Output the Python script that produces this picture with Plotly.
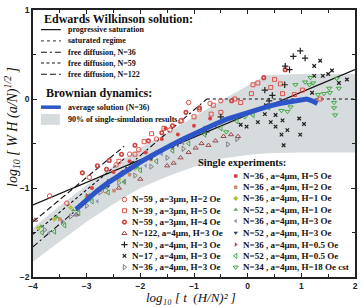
import plotly.graph_objects as go

# ---------------- data ----------------
# Edwards-Wilkinson analytic curves
prog_x = [-4, 2]
prog_y = [-1.19, 0.33]
sat_x = [-0.76, 2]
sat_y = [0.0, 0.0]
free36_x = [-4, -0.76]
free36_y = [-1.66, 0.0]
free59_x = [-4, -2.3]
free59_y = [-1.52, -0.67]
free122_x = [-4, -2.3]
free122_y = [-1.38, -0.53]

# Brownian dynamics average (N=36)
blue_x = [-3.2, -3.0, -2.8, -2.6, -2.4, -2.2, -2.0, -1.8, -1.6, -1.4, -1.2, -1.0, -0.8,
          -0.6, -0.4, -0.2, 0.0, 0.2, 0.4, 0.6, 0.8, 1.0, 1.1, 1.2, 1.3]
blue_y = [-1.24, -1.13, -1.03, -0.94, -0.86, -0.78, -0.71, -0.64, -0.57, -0.51, -0.45, -0.39, -0.33,
          -0.28, -0.23, -0.19, -0.15, -0.11, -0.08, -0.05, -0.03, -0.01, 0.0, -0.02, -0.05]

# 90% band of single simulations
band_x = [-4, -3.5, -3, -2.5, -2, -1.5, -1.0, -0.5, 0, 0.35, 1, 1.5, 2]
band_hi = [-1.45, -1.2, -0.97, -0.75, -0.55, -0.38, -0.2, -0.02, 0.15, 0.27, 0.28, 0.28, 0.28]
band_lo = [-1.83, -1.6, -1.38, -1.18, -1.0, -0.87, -0.76, -0.67, -0.63, -0.61, -0.6, -0.6, -0.6]

# single experiments
s59_H2_x = [-3.69, -3.37, -2.65, -2.95, -2.45, -2.2, -2.03, -1.7, -1.45, -1.25, -1.1, -0.9, -0.7, -0.5]
s59_H2_y = [-1.09, -1.17, -1.03, -0.88, -0.74, -0.62, -0.57, -0.45, -0.35, -0.25, -0.04, -0.12, -0.05, -0.02]
s39_H5_x = [-2.4, -2.1, -1.93, -1.79, -1.56, -1.23, -1.0, -0.68, -0.64, -0.5, -0.24, -0.13, 0.07, 0.1,
            0.19, 0.43, 0.5, 0.61, 0.65, 0.87, 1.02, 1.35]
s39_H5_y = [-0.7, -0.62, -0.48, -0.39, -0.33, -0.24, -0.2, -0.17, -0.07, -0.15, 0.0, -0.04, 0.06, 0.16,
            0.18, 0.13, 0.22, 0.17, 0.06, 0.05, 0.1, 0.0]
s59_H4_x = [-3.08, -2.8, -2.63, -2.58, -2.35, -2.1, -1.85, -1.6, -1.4, -1.15, -0.9, -0.3, 0.3, 0.7]
s59_H4_y = [-0.83, -0.75, -0.79, -0.69, -0.62, -0.52, -0.47, -0.38, -0.3, -0.15, -0.1, -0.02, 0.24, 0.33]
s122_H3_x = [-3.96, -3.2, -2.4, -2.0, -1.5, -1.38, -1.25, -1.1, -0.97, -0.86, -0.73, -0.6, -0.45, -0.31, -0.18]
s122_H3_y = [-1.36, -1.3, -1.0, -0.9, -0.75, -0.72, -0.66, -0.6, -0.55, -0.5, -0.52, -0.47, -0.42, -0.4, -0.42]
s30_H3_x = [0.85, 0.98, 1.07, 0.7, 0.78, 0.69, 0.46, 0.4, 0.32, -0.77, -1.3, -0.5]
s30_H3_y = [0.48, 0.54, 0.46, 0.37, 0.33, 0.16, 0.04, -0.02, 0.1, -0.37, -0.5, -0.2]
s17_H3_x = [1.24, 1.35, 1.57, 1.24, 1.4, 1.2, 0.52, 0.65, 0.96, 1.05, 0.52, 0.74, 0.63, 0.98, 0.67,
            0.34, 0.32, 0.19, 0.43, -0.02, -0.13, 1.7, 1.85, 1.5]
s17_H3_y = [0.37, 0.43, 0.32, 0.26, 0.26, 0.07, -0.18, -0.24, -0.22, -0.28, -0.31, -0.35, -0.4, -0.4, -0.52,
            -0.07, -0.17, -0.26, -0.26, -0.31, -0.29, 0.18, 0.22, 0.28]
s36_H3o_x = [-3.78, -3.45, -3.3, -3.0, -2.75, -2.4, -2.1, -1.8, -1.5, -1.2, -0.37, -0.2]
s36_H3o_y = [-1.47, -1.38, -1.32, -1.2, -1.05, -0.94, -0.86, -0.76, -0.66, -0.56, -0.51, -0.45]
s36_H5_x = [-2.9, -2.5, -2.2, -1.9, -1.6, -1.53, -1.3, -1.0, -0.7]
s36_H5_y = [-1.0, -0.82, -0.7, -0.6, -0.45, -0.33, -0.4, -0.3, -0.22]
s36_H2_x = [-3.5, -3.1, -2.49, -2.2, -1.8, -1.4, -1.1, -0.8, -0.5]
s36_H2_y = [-1.35, -1.2, -1.03, -0.85, -0.68, -0.55, -0.43, -0.32, -0.27]
s36_H1_x = [-3.9, -3.6, -3.3, -3.0, -2.7, -2.4, -2.1, -1.8]
s36_H1_y = [-1.45, -1.35, -1.22, -1.1, -0.98, -0.9, -0.78, -0.66]
s52_H1_x = [-3.85, -3.55, -3.25, -2.95, -2.65, -2.35, -2.05, -1.75, -1.45, -1.15, -0.85]
s52_H1_y = [-1.43, -1.33, -1.25, -1.08, -1.0, -0.86, -0.77, -0.64, -0.53, -0.45, -0.36]
s36_H3f_x = [-3.7, -3.2, -2.8, -2.3, -1.9, -1.6, -1.2]
s36_H3f_y = [-1.5, -1.3, -1.15, -0.93, -0.75, -0.62, -0.5]
s52_H3_x = [-2.6, -2.2, -1.8, -1.4, -1.0, -0.6, -0.2]
s52_H3_y = [-0.98, -0.8, -0.67, -0.54, -0.42, -0.3, -0.2]
s36_H05_x = [-3.0, -2.6, -2.2, -1.7, -1.2]
s36_H05_y = [-1.08, -0.92, -0.78, -0.6, -0.47]
s52_H05_x = [-3.83, -3.6, -3.41, -3.15, -2.9, -2.6, -2.3, -2.0, -1.7, -1.4, -1.1, -0.8, -0.5, -0.2, 0.1]
s52_H05_y = [-1.5, -1.49, -1.42, -1.28, -1.15, -1.05, -0.93, -0.8, -0.7, -0.58, -0.5, -0.4, -0.33, -0.25, -0.18]
s34_H18_x = [0.89, 1.07, 1.22, 1.31, 1.42, 1.53, 1.66, 1.61, 1.61, 1.63, 0.8, 0.63, 0.74, 1.15, 1.17,
             1.52, 1.7, -0.4, -0.05, 0.4]
s34_H18_y = [0.16, 0.19, 0.18, 0.05, 0.06, 0.07, 0.23, -0.04, -0.1, -0.18, -0.09, -0.13, -0.14, 0.16, 0.24,
             0.12, 0.12, -0.37, -0.2, -0.1]

left_labels = ["N=59 , a=3μm, H=2 Oe", "N=39 , a=3μm, H=5 Oe", "N=59 , a=3μm, H=4 Oe",
               "N=122, a=4μm, H=3 Oe", "N=30 , a=4μm, H=3 Oe", "N=17 , a=4μm, H=3 Oe",
               "N=36 , a=4μm, H=3 Oe"]
right_labels = ["N=36 , a=4μm, H=5 Oe", "N=36 , a=4μm, H=2 Oe", "N=36 , a=4μm, H=1 Oe",
                "N=52 , a=4μm, H=1 Oe", "N=36 , a=4μm, H=3 Oe", "N=52 , a=4μm, H=3 Oe",
                "N=36 , a=4μm, H=0.5 Oe", "N=52 , a=4μm, H=0.5 Oe", "N=34 , a=4μm, H=18 Oe cst"]
ew_labels = ["progressive saturation", "saturated regime", "free diffusion, N=36",
             "free diffusion, N=59", "free diffusion, N=122"]
bd_labels = ["average solution (N=36)", "90% of single-simulation results"]

# ---------------- styles ----------------
RED = "#e0524a"
GREEN = "#45a845"
left_series = [
    (s59_H2_x, s59_H2_y, dict(symbol="circle-open", size=4.5, color=RED, line=dict(width=1, color=RED))),
    (s39_H5_x, s39_H5_y, dict(symbol="square-open", size=4, color=RED, line=dict(width=1, color=RED))),
    (s59_H4_x, s59_H4_y, dict(symbol="circle-open", size=3.5, color="#cc4444", line=dict(width=1.6, color="#cc4444"))),
    (s122_H3_x, s122_H3_y, dict(symbol="triangle-up-open", size=4.5, color="#9a4a4a", line=dict(width=1, color="#9a4a4a"))),
    (s30_H3_x, s30_H3_y, dict(symbol="cross-thin-open", size=4.5, color="#222", line=dict(width=1.2, color="#222"))),
    (s17_H3_x, s17_H3_y, dict(symbol="x-thin-open", size=3.5, color="#222", line=dict(width=1.3, color="#222"))),
    (s36_H3o_x, s36_H3o_y, dict(symbol="triangle-right-open", size=4.5, color="#808080", line=dict(width=1, color="#808080"))),
]
right_series = [
    (s36_H5_x, s36_H5_y, dict(symbol="circle", size=4, color="#d94040")),
    (s36_H2_x, s36_H2_y, dict(symbol="square", size=3.5, color="#c98b6b")),
    (s36_H1_x, s36_H1_y, dict(symbol="diamond", size=4, color="#afbf45")),
    (s52_H1_x, s52_H1_y, dict(symbol="triangle-up", size=4, color="#4aa84a")),
    (s36_H3f_x, s36_H3f_y, dict(symbol="triangle-left", size=4, color="#8a95b5")),
    (s52_H3_x, s52_H3_y, dict(symbol="triangle-down", size=4, color="#2a3a80")),
    (s36_H05_x, s36_H05_y, dict(symbol="triangle-right", size=4, color="#b04870")),
    (s52_H05_x, s52_H05_y, dict(symbol="triangle-left-open", size=4.5, color=GREEN, line=dict(width=1, color=GREEN))),
    (s34_H18_x, s34_H18_y, dict(symbol="triangle-down-open", size=4.5, color=GREEN, line=dict(width=1, color=GREEN))),
]
ew_lines = [
    (prog_x, prog_y, dict(color="#111", width=1.2, dash="solid")),
    (sat_x, sat_y, dict(color="#555", width=1.3, dash="dot")),
    (free36_x, free36_y, dict(color="#111", width=1.1, dash="6px,3px,2px,3px")),
    (free59_x, free59_y, dict(color="#111", width=1.1, dash="3px,2.5px")),
    (free122_x, free122_y, dict(color="#111", width=1.1, dash="6px,3px")),
]
BAND = "#d6dbde"
BLUE = "#2d55c8"

SERIF = "Liberation Serif"

# plot area in page pixels
PX_L, PX_R, PX_T, PX_B = 33, 357, 5, 277

fig = go.Figure()

# band
fig.add_trace(go.Scatter(x=band_x + band_x[::-1], y=band_hi + band_lo[::-1], mode="lines",
                         fill="toself", fillcolor=BAND, line=dict(width=0), hoverinfo="skip"))
# EW lines
for lx, ly, st in ew_lines:
    fig.add_trace(go.Scatter(x=lx, y=ly, mode="lines", line=st))
# experiments
for sx, sy, mk in left_series + right_series:
    fig.add_trace(go.Scatter(x=sx, y=sy, mode="markers", marker=mk))
# Brownian average
fig.add_trace(go.Scatter(x=blue_x, y=blue_y, mode="lines", line=dict(color=BLUE, width=5)))

# ---------------- legend drawn on a pixel overlay axis ----------------
L = dict(xaxis="x2", yaxis="y2", hoverinfo="skip")
ew_rows = [25, 36.5, 48, 59, 70.5]
for (lx, ly, st), r in zip(ew_lines, ew_rows):
    fig.add_trace(go.Scatter(x=[41, 61], y=[r, r], mode="lines", line=st, **L))
fig.add_trace(go.Scatter(x=[41, 61], y=[104, 104], mode="lines", line=dict(color=BLUE, width=3.5), **L))
left_rows = [198, 209.5, 221, 232.5, 244, 255.5, 267]
right_rows = [174, 185.5, 197, 208.5, 220, 232, 244, 255.5, 267]
for (sx, sy, mk), r in zip(left_series, left_rows):
    fig.add_trace(go.Scatter(x=[125], y=[r], mode="markers", marker=mk, **L))
for (sx, sy, mk), r in zip(right_series, right_rows):
    fig.add_trace(go.Scatter(x=[237], y=[r], mode="markers", marker=mk, **L))

fig.add_shape(type="rect", xref="x2", yref="y2", x0=41, x1=60, y0=111, y1=122,
              fillcolor=BAND, line=dict(width=0), layer="above")

ann = []
def txt(x, y, s, size, anchor="left", weight="bold", style="normal"):
    ann.append(dict(x=x, y=y, xref="x2", yref="y2", text=s, showarrow=False, xanchor=anchor,
                    yanchor="middle", font=dict(family=SERIF, size=size, color="#111",
                                                weight=weight, style=style)))

txt(42, 14, "Edwards Wilkinson solution:", 12)
for s, r in zip(ew_labels, ew_rows):
    txt(66, r, s, 8)
txt(44, 90, "Brownian dynamics:", 12)
txt(66, 104, bd_labels[0], 8)
txt(66, 117, bd_labels[1], 8)
txt(243, 160, "Single experiments:", 10.5, anchor="center")
for s, r in zip(left_labels, left_rows):
    txt(131, r, s, 9)
for s, r in zip(right_labels, right_rows):
    txt(242, r, s, 9)

# axis titles (paper coordinates)
def px2paper(px, py):
    return (px - PX_L) / float(PX_R - PX_L), (PX_B - py) / float(PX_B - PX_T)

tx, ty = px2paper(192, 307)
ann.append(dict(x=tx, y=ty, xref="paper", yref="paper", showarrow=False, xanchor="center", yanchor="bottom",
                borderpad=0, text="log₁₀ [ t  (H/N)² ]",
                font=dict(family=SERIF, size=13, style="italic", color="#111")))
tx, ty = px2paper(12, 124)
ann.append(dict(x=tx, y=ty, xref="paper", yref="paper", showarrow=False, xanchor="center", yanchor="middle",
                textangle=-90,
                text="log<sub>10</sub> [ W H (a/N)<sup>1/2</sup> ]",
                font=dict(family=SERIF, size=14, style="italic", color="#111")))

axis_common = dict(showgrid=False, zeroline=False, showline=True, linewidth=1.6, linecolor="#222",
                   mirror="allticks", ticks="inside", ticklen=4, tickwidth=1, tickcolor="#222",
                   tickfont=dict(family="Liberation Sans", size=8.5, color="#222", weight="bold"),
                   minor=dict(dtick=0.5, ticks="inside", ticklen=3, tickwidth=1, tickcolor="#222"))

fig.update_layout(
    width=363, height=307, margin=dict(l=PX_L, r=363 - PX_R, t=PX_T, b=307 - PX_B),
    paper_bgcolor="white", plot_bgcolor="white", showlegend=False,
    xaxis=dict(range=[-4, 2], dtick=1, tick0=0, ticklabelstandoff=0, **axis_common),
    yaxis=dict(range=[-2, 1], dtick=1, tick0=0, **axis_common),
    xaxis2=dict(range=[PX_L, PX_R], overlaying="x", anchor="y2", visible=False, fixedrange=True),
    yaxis2=dict(range=[PX_B, PX_T], overlaying="y", anchor="x2", visible=False, fixedrange=True),
    annotations=ann,
)

fig.write_html("out.html")
